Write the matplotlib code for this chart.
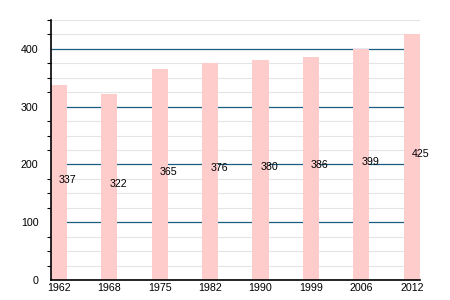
import matplotlib
matplotlib.use('Agg')
import matplotlib.pyplot as plt
from matplotlib.ticker import MultipleLocator

plt.rcParams['font.family'] = ['Liberation Sans', 'DejaVu Sans']

years = ['1962', '1968', '1975', '1982', '1990', '1999', '2006', '2012']
population = [337, 322, 365, 376, 380, 386, 399, 425]

w = 0.32
fig = plt.figure(figsize=(4.5, 3), dpi=100)
ax = fig.add_axes([0.113, 0.0667, 0.82, 0.8667])

x = list(range(len(years)))
ax.bar(x, population, width=w, color='#ffcccc', zorder=2)
for i, v in enumerate(population):
    ax.text(i, v / 2, str(v), fontsize=7.7, ha='left', va='baseline', zorder=3)

ax.set_xlim(-w / 2, len(years) - 1 + w / 2)
ax.set_ylim(0, 450)
ax.yaxis.set_major_locator(MultipleLocator(100))
ax.yaxis.set_minor_locator(MultipleLocator(25))
ax.grid(which='minor', axis='y', color='#e4e4e4', lw=0.8, zorder=0)
ax.grid(which='major', axis='y', color='#1a5f80', lw=0.9, zorder=1)
ax.set_xticks(x)
ax.set_xticklabels(years)
ax.tick_params(axis='x', length=0, labelsize=7.7, pad=2)
ax.tick_params(axis='y', which='major', length=0, labelsize=7.7, pad=9)
ax.tick_params(axis='y', which='minor', length=3, width=0.8)
for s in ['top', 'right']:
    ax.spines[s].set_visible(False)
ax.spines['left'].set_linewidth(1.2)
ax.spines['bottom'].set_linewidth(1.2)

fig.savefig('out.png', dpi=100)
